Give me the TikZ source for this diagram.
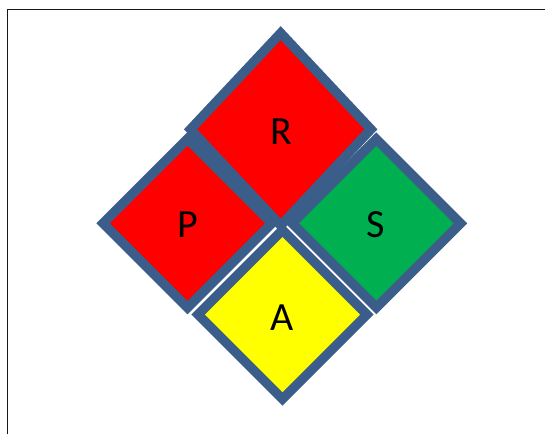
\documentclass[tikz,border=0pt]{standalone}
\usepackage{fontspec}
\setmainfont{Carlito}
\definecolor{edgeblue}{HTML}{3B5D8A}
\definecolor{hred}{HTML}{FF0000}
\definecolor{hgreen}{HTML}{00B050}
\definecolor{hyellow}{HTML}{FFFF00}
\tikzset{
  panel/.style={draw=edgeblue, line width=9.5pt, line join=miter},
  halo/.style={draw=white, line width=12.5pt, line join=round},
  lbl/.style={font=\fontsize{40}{40}\selectfont, text=black, inner sep=0pt},
  frameline/.style={line width=1.8pt, draw=black!90}
}
% diamond path: centre x, centre y, half width, half height
\newcommand\hazdia[4]{(#1,#2-#4) -- (#1+#3,#2) -- (#1,#2+#4) -- (#1-#3,#2) -- cycle}
\begin{document}
\begin{tikzpicture}[x=1pt,y=-1pt]
\useasboundingbox (0,0) rectangle (545,434);
\fill[white] (0,0) rectangle (545,434);
% frame
\coordinate (f1) at (7.5,434);
\coordinate (f2) at (7.5,9.5);
\coordinate (f3) at (545,9.5);
\draw[frameline] (f1) -- (f2) -- (f3);
% panels
\path[panel, fill=hred]   \hazdia{187.5}{223.3}{84.4}{84.4};
\path[panel, fill=hgreen] \hazdia{376.3}{223.3}{84.2}{84.2};
\path[halo]               \hazdia{282.5}{314.6}{84.4}{84.4};
\path[panel, fill=hyellow]\hazdia{282.5}{314.6}{84.4}{84.4};
\path[panel, fill=hred]   \hazdia{280.7}{129.3}{90.2}{96.2};
% labels
\node[lbl] (Rl) at (281,132) {R};
\node[lbl] (Pl) at (188,225) {P};
\node[lbl] (Sl) at (376,225) {S};
\node[lbl] (Al) at (282,318) {A};
\end{tikzpicture}
\end{document}
